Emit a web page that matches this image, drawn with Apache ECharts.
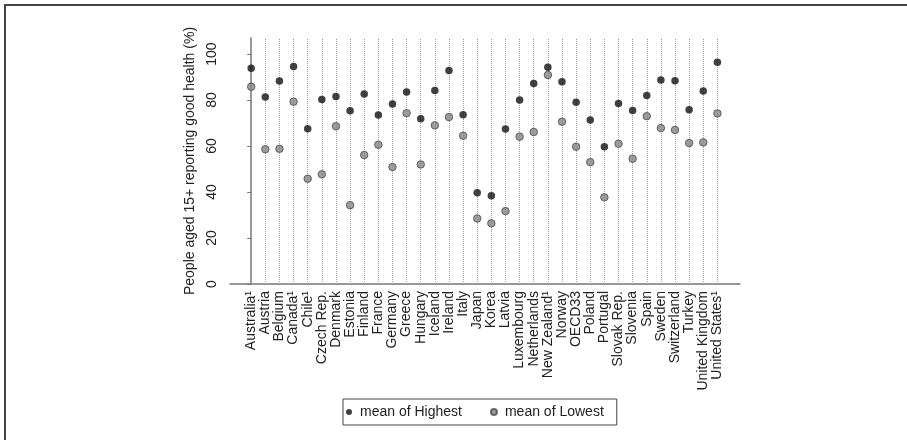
<!DOCTYPE html>
<html>
<head>
<meta charset="utf-8">
<script src="https://cdn.jsdelivr.net/npm/echarts@6/dist/echarts.min.js"></script>
<style>
html,body{margin:0;padding:0;background:#fff;}
#chart{width:907px;height:440px;}
</style>
</head>
<body>
<div id="chart"></div>
<script>
const categories = ["Australia¹","Austria","Belgium","Canada¹","Chile¹","Czech Rep.","Denmark","Estonia","Finland","France","Germany","Greece","Hungary","Iceland","Ireland","Italy","Japan","Korea","Latvia","Luxembourg","Netherlands","New Zealand¹","Norway","OECD33","Poland","Portugal","Slovak Rep.","Slovenia","Spain","Sweden","Switzerland","Turkey","United Kingdom","United States¹"];
const highest = [93.8,81.3,88.3,94.6,67.5,80.3,81.6,75.4,82.6,73.5,78.3,83.5,71.9,84.2,92.9,73.6,39.7,38.4,67.4,80.0,87.2,94.3,88.0,79.0,71.3,59.7,78.5,75.5,82.0,88.7,88.4,75.8,83.9,96.4];
const lowest  = [85.8,58.6,58.8,79.3,45.8,47.7,68.6,34.3,56.1,60.6,50.9,74.3,52.0,69.0,72.6,64.5,28.5,26.4,31.7,64.1,66.1,90.9,70.6,59.7,53.0,37.7,61.0,54.5,73.0,67.8,67.0,61.3,61.6,74.2];
const yTicks = [0,20,40,60,80,100];
const seriesNames = ["mean of Highest","mean of Lowest"];

const chart = echarts.init(document.getElementById('chart'), null, {renderer:'canvas'});
const font = 'Liberation Sans, Arial, sans-serif';
const catIdx = categories.map((c,i)=>i);
chart.setOption({
  animation:false,
  backgroundColor:'#fff',
  textStyle:{fontFamily:font},
  graphic:[{type:'rect',shape:{x:5,y:5,width:1200,height:1200},style:{fill:'none',stroke:'#444',lineWidth:2},silent:true}],
  grid:{left:230,right:167,top:38,bottom:156,containLabel:false},
  legend:{
    left:343, top:399,
    data:seriesNames,
    icon:'circle',
    itemWidth:12, itemHeight:6, itemGap:28,
    padding:[6,13,6,3],
    borderColor:'#444', borderWidth:1,
    textStyle:{fontSize:14,color:'#222',fontFamily:font}
  },
  xAxis:{
    type:'value', min:-1.5, max:34.6,
    splitLine:{show:false},
    axisTick:{show:false},
    axisLine:{show:true,lineStyle:{color:'#777',width:1.5}},
    axisLabel:{
      customValues:catIdx,
      rotate:90, margin:7, fontSize:14, color:'#222', fontFamily:font,
      formatter:v=>categories[Math.round(v)]
    }
  },
  yAxis:{
    type:'value', min:0, max:107,
    name:'People aged 15+ reporting good health (%)',
    nameLocation:'middle', nameGap:31,
    nameTextStyle:{fontSize:14,color:'#222',fontFamily:font},
    splitLine:{show:false},
    axisLine:{show:true,lineStyle:{color:'#777',width:1.5}},
    axisTick:{show:true,length:4,customValues:yTicks,lineStyle:{color:'#777'}},
    axisLabel:{customValues:yTicks,rotate:90,margin:11,fontSize:14,color:'#222',fontFamily:font}
  },
  series:[
    {
      name:'gridlines', type:'scatter', z:1, silent:true, data:[],
      markLine:{
        silent:true, symbol:['none','none'], label:{show:false}, z:1,
        lineStyle:{type:'dotted',color:'#9a9a9a',width:1},
        emphasis:{disabled:true},
        data:catIdx.map(i=>({xAxis:i}))
      }
    },
    {
      name:seriesNames[0], type:'scatter', symbol:'circle', symbolSize:7.5, z:5,
      itemStyle:{color:'#111'},
      data:highest.map((v,i)=>[i,v])
    },
    {
      name:seriesNames[1], type:'scatter', symbol:'circle', symbolSize:7.5, z:5,
      itemStyle:{color:'#858585',borderColor:'#4a4a4a',borderWidth:1},
      data:lowest.map((v,i)=>[i,v])
    }
  ]
});
</script>
</body>
</html>
